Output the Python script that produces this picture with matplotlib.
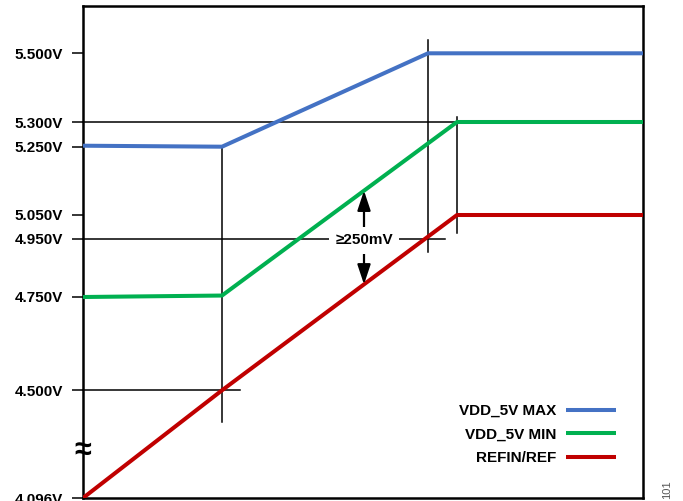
import numpy as np
import matplotlib
matplotlib.use("Agg")
import matplotlib.pyplot as plt

plt.rcParams['font.family'] = ['Liberation Sans', 'DejaVu Sans']

# ---- data ----
tick_values = [4.096, 4.500, 4.750, 4.950, 5.050, 5.250, 5.300, 5.500]
tick_labels = ["4.096V", "4.500V", "4.750V", "4.950V", "5.050V", "5.250V", "5.300V", "5.500V"]

t_end = 560
t1, t2, t3 = 139, 345, 374

max_t = [0, t1, t2, t_end]
max_v = [5.252, 5.250, 5.500, 5.500]
min_t = [0, t1, t3, t_end]
min_v = [4.750, 4.755, 5.300, 5.300]
ref_t = [0, t1, t3, t_end]
ref_v = [4.096, 4.500, 5.050, 5.050]

series_names = ["VDD_5V MAX", "VDD_5V MIN", "REFIN/REF"]
colors = ["#4472C4", "#00B050", "#C00000"]

# ---- piecewise (schematic) y scale: value -> position ----
knot_v = np.array(tick_values + [5.638])
knot_p = np.array([0, 107.7, 201, 259.3, 283, 351.3, 376, 444.7, 492.0])

def fwd(v):
    return np.interp(v, knot_v, knot_p)

def inv(p):
    return np.interp(p, knot_p, knot_v)

fig = plt.figure(figsize=(6.83, 5.01), dpi=100)
ax = fig.add_axes([83/683, 3/501, 560/683, 492/501])
ax.set_yscale('function', functions=(fwd, inv))
ax.set_xlim(0, t_end)
ax.set_ylim(knot_v[0], knot_v[-1])

for s in ax.spines.values():
    s.set_linewidth(1.8)
    s.set_color('black')

ax.set_xticks([])
ax.set_yticks(tick_values)
ax.set_yticklabels(tick_labels, fontsize=11, fontweight='bold')
ax.yaxis.set_minor_locator(matplotlib.ticker.NullLocator())
ax.tick_params(axis='y', direction='out', length=8, width=1.1, pad=6.5)

lw_thin = 1.1
# guide lines
ax.plot([0, t3], [5.300, 5.300], color='black', lw=lw_thin, clip_on=False)
ax.plot([0, t1 + 18], [4.500, 4.500], color='black', lw=lw_thin, clip_on=False)
ax.plot([0, t2 + 17], [4.950, 4.950], color='black', lw=lw_thin, clip_on=False)
ax.plot([t1, t1], [inv(76.3), 5.250], color='black', lw=lw_thin)
ax.plot([t2, t2], [inv(246), inv(458)], color='black', lw=lw_thin)
ax.plot([t3, t3], [inv(265), inv(381)], color='black', lw=lw_thin)

# series
for tt, vv, name, c in zip([max_t, min_t, ref_t], [max_v, min_v, ref_v], series_names, colors):
    ax.plot(tt, vv, color=c, lw=2.9, label=name, solid_capstyle='butt', zorder=3)

# annotation: >=250mV
xa = 281
pg = np.interp(xa, [t1, t3], [fwd(4.755), fwd(5.300)])
pr = np.interp(xa, [t1, t3], [fwd(4.500), fwd(5.050)])
ax.annotate("", xy=(xa, inv(pg)), xytext=(0, -28), textcoords='offset points',
            arrowprops=dict(arrowstyle='-|>,head_length=1.2,head_width=0.4', color='black', lw=1.6,
                            shrinkA=0, shrinkB=0))
ax.annotate("", xy=(xa, inv(pr)), xytext=(0, 24), textcoords='offset points',
            arrowprops=dict(arrowstyle='-|>,head_length=1.2,head_width=0.4', color='black', lw=1.6,
                            shrinkA=0, shrinkB=0))
ax.text(xa, inv(257.5), "\u2265250mV", fontsize=11, fontweight='bold', ha='center', va='center',
        bbox=dict(facecolor='white', edgecolor='none', pad=4.5), zorder=4)

# axis break symbol
ax.text(0, inv(47), "\u2248", fontsize=22, fontweight='bold', ha='center', va='center',
        clip_on=False, zorder=5)

leg = ax.legend(loc='lower right', bbox_to_anchor=(0.952, 0.067), frameon=False,
                markerfirst=False, fontsize=11, handlelength=3.3, handletextpad=0.6,
                labelspacing=0.62, borderpad=0, borderaxespad=0,
                prop=dict(weight='bold', size=11))

fig.text(667/683, 1 - 490/501, "101", rotation=90, fontsize=8, color='#555555',
         ha='center', va='center')

fig.savefig("out.png", dpi=100)
